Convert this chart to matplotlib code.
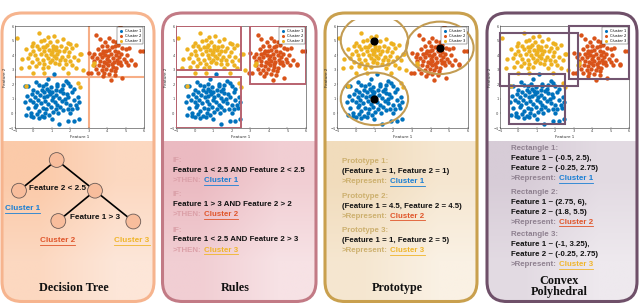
import matplotlib
matplotlib.use('Agg')
import matplotlib.pyplot as plt
from matplotlib.patches import FancyBboxPatch, Circle, Rectangle, Ellipse
import numpy as np

# ---------------- data ----------------
cluster1 = [(1.13,2.71),(0.14,2.16),(0.81,2.38),(-0.46,1.88),(-0.3,1.9),(0.3,1.95),(0.7,2.0),(1.3,2.05),
            (1.6,1.95),(2.0,1.85),(2.2,1.7),(0.0,1.6),(0.2,1.5),(0.45,1.6),(0.6,1.45),(0.85,1.55),(1.0,1.5),
            (1.2,1.6),(1.45,1.55),(1.6,1.4),(1.8,1.35),(2.1,1.45),(2.4,1.1),(-0.35,1.2),(-0.1,1.3),(0.1,1.15),
            (0.35,1.25),(0.55,1.1),(0.75,1.2),(0.9,1.3),(1.05,1.1),(1.25,1.25),(1.4,1.05),(1.7,1.0),(1.9,1.1),
            (2.2,0.95),(2.45,0.8),(-0.45,0.75),(-0.2,0.9),(0.0,0.8),(0.25,0.95),(0.4,0.7),(0.65,0.85),(0.8,0.65),
            (1.0,0.9),(1.15,0.75),(1.3,0.6),(1.55,0.85),(1.75,0.7),(2.0,0.6),(2.3,0.55),(-0.3,0.35),(0.1,0.45),
            (0.3,0.2),(0.5,0.4),(0.7,0.3),(0.95,0.45),(1.2,0.3),(1.45,0.45),(1.6,0.25),(1.85,0.3),(2.1,0.3),
            (2.35,0.4),(-0.4,-0.1),(-0.15,-0.2),(0.2,-0.05),(0.45,-0.15),(0.65,0.05),(0.85,-0.1),(1.05,0.1),
            (1.35,0.0),(2.0,0.05),(0.0,-0.25),(0.3,-0.3),(0.6,-0.25),(1.0,-0.35),(1.4,-0.7),(1.9,-0.5),
            (2.2,-0.5),(2.45,-0.4),(0.5,1.85),(0.95,1.8),(1.55,1.7),(1.9,2.1),(0.15,0.6),(1.3,1.9),(0.75,1.7),
            (-0.15,0.05),(1.75,2.2)]
cluster2 = [(4.7,6.0),(3.4,5.35),(3.6,5.1),(4.1,5.2),(4.3,5.0),(3.9,4.9),(4.5,4.9),(4.6,4.7),(3.7,4.6),
            (4.0,4.6),(4.25,4.55),(4.8,4.5),(5.0,4.4),(5.2,4.5),(3.5,4.4),(3.8,4.3),(4.1,4.35),(4.4,4.3),
            (4.6,4.2),(5.8,4.3),(5.95,4.3),(3.0,4.15),(3.3,4.1),(3.6,4.05),(3.9,4.0),(4.2,4.1),(4.5,4.0),
            (4.75,4.05),(5.1,4.0),(3.2,3.9),(3.45,3.8),(3.7,3.85),(4.0,3.75),(4.3,3.8),(4.55,3.7),(4.9,3.75),
            (5.3,3.7),(3.6,3.6),(3.85,3.55),(4.1,3.6),(4.35,3.5),(4.6,3.45),(5.0,3.5),(5.5,3.4),(5.15,3.3),
            (3.3,3.35),(3.55,3.3),(3.8,3.25),(4.05,3.3),(4.3,3.2),(4.5,3.15),(4.75,3.3),(3.4,3.05),(3.7,3.0),
            (3.95,3.05),(4.2,2.95),(4.45,2.9),(3.1,2.8),(3.5,2.75),(3.85,2.8),(4.1,2.7),(4.4,2.65),(4.2,2.3),
            (4.8,2.4),(3.75,2.55),(2.95,2.8),(4.7,3.55),(3.95,4.25),(4.05,3.95),(4.25,3.4),(3.95,3.45),
            (4.4,4.6),(3.75,4.15),(4.65,3.9),(5.5,3.35),(3.3,3.6)]
cluster3 = [(-0.9,5.2),(0.3,5.5),(0.8,5.25),(1.1,5.3),(0.6,5.05),(1.3,5.0),(1.6,5.1),(0.0,4.85),(0.4,4.95),
            (0.9,4.9),(1.9,4.85),(2.0,4.75),(2.3,4.7),(-0.1,4.6),(0.2,4.65),(0.5,4.55),(0.75,4.7),(1.05,4.6),
            (1.25,4.55),(1.5,4.65),(1.75,4.5),(2.1,4.5),(-0.4,4.4),(0.0,4.3),(0.3,4.4),(0.6,4.3),(0.85,4.35),
            (1.0,4.2),(1.2,4.35),(1.4,4.25),(1.65,4.3),(1.95,4.2),(2.5,4.1),(2.6,4.05),(-0.2,4.05),(0.1,4.0),
            (0.4,4.1),(0.7,4.0),(0.95,4.05),(1.1,3.95),(1.3,4.05),(1.55,3.9),(1.85,3.95),(2.2,3.9),(-0.6,3.75),
            (-0.3,3.8),(0.2,3.75),(0.5,3.7),(0.8,3.8),(1.0,3.7),(1.2,3.8),(1.45,3.65),(1.7,3.7),(2.0,3.6),
            (2.4,3.65),(-0.1,3.5),(0.3,3.45),(0.6,3.4),(0.9,3.5),(1.15,3.45),(1.4,3.4),(1.75,3.4),(2.1,3.35),
            (-0.7,3.15),(-0.25,3.2),(0.15,3.25),(0.5,3.1),(0.8,3.2),(1.6,3.15),(2.3,3.1),(2.7,3.0),(0.0,2.75),
            (0.6,2.8),(1.9,2.8),(3.25,3.3),(3.3,3.45),(-0.4,1.85),(2.5,1.8),(2.4,2.1),(1.05,4.45),(0.65,4.55)]

cluster_names = ["Cluster 1", "Cluster 2", "Cluster 3"]
cluster_colors = ["#0072BD", "#D95319", "#EDB120"]
label_colors = ["#1a7fd4", "#e0552a", "#f0b52a"]
axis_ticks = [-1, 0, 1, 2, 3, 4, 5, 6]

tree_split_y = 2.5          # decision tree: Feature 2 < 2.5
tree_split_x = 3            # decision tree: Feature 1 > 3
rule_boxes = [(-1, 2.5, -1, 2.5), (3, 6, 2, 6), (-1, 2.5, 3, 6)]   # (x0,x1,y0,y1)
proto_x = [1, 4.5, 1]
proto_y = [1, 4.5, 5]
proto_radius = 1.8
rect_boxes = [(-0.5, 2.5, -0.7, 2.7), (2.75, 6, 2.35, 6), (-1, 3.25, 1.85, 5.55)]

rules_text = [("IF:", "Feature 1 < 2.5 AND Feature 2 < 2.5", ">THEN:"),
              ("IF:", "Feature 1 > 3 AND Feature 2 > 2", ">THEN:"),
              ("IF:", "Feature 1 < 2.5 AND Feature 2 > 3", ">THEN:")]
proto_text = [("Prototype 1:", "(Feature 1 = 1, Feature 2 = 1)"),
              ("Prototype 2:", "(Feature 1 = 4.5, Feature 2 = 4.5)"),
              ("Prototype 3:", "(Feature 1 = 1, Feature 2 = 5)")]
rect_text = [("Rectangle 1:", "Feature 1 ~ (-0.5, 2.5),", "Feature 2 ~ (-0.25, 2.75)"),
             ("Rectangle 2:", "Feature 1 ~ (2.75, 6),", "Feature 2 ~ (1.8, 5.5)"),
             ("Rectangle 3:", "Feature 1 ~ (-1, 3.25),", "Feature 2 ~ (-0.25, 2.75)")]
titles = ["Decision Tree", "Rules", "Prototype", "Convex", "Polyhedral"]

# ---------------- figure ----------------
W, H = 640, 303
fig = plt.figure(figsize=(6.4, 3.03), dpi=100)
bg = fig.add_axes([0, 0, 1, 1])
bg.set_xlim(0, W); bg.set_ylim(H, 0); bg.axis('off')

def hex2rgb(h):
    h = h.lstrip('#'); return [int(h[i:i+2], 16) / 255 for i in (0, 2, 4)]

panels = [(2, 154, "#f6b48e", "#fbcaa9", "#fde6d8"),
          (162.5, 316, "#c27a85", "#ebbac1", "#f7e2e5"),
          (325, 477, "#c9a04e", "#f1dcbc", "#faf1e4"),
          (487, 637, "#6f5069", "#d7ccd7", "#eee9ee")]
TOP, BOT, SPLIT = 13, 301.5, 142
for x0, x1, ec, c1, c2 in panels:
    base = FancyBboxPatch((x0, TOP), x1 - x0, BOT - TOP, boxstyle="round,pad=0,rounding_size=20",
                          fc='white', ec='none', zorder=1)
    bg.add_patch(base)
    a, b = np.array(hex2rgb(c1)), np.array(hex2rgb(c2))
    arr = np.array([[a, (a + b) / 2], [(a + b) / 2, b]])
    im = bg.imshow(arr, extent=(x0, x1, BOT, SPLIT), interpolation='bilinear', aspect='auto', zorder=1.5)
    im.set_clip_path(base)
    outline = FancyBboxPatch((x0, TOP), x1 - x0, BOT - TOP, boxstyle="round,pad=0,rounding_size=20",
                             fc='none', ec=ec, lw=2.2, zorder=2)
    bg.add_patch(outline)
bg.set_xlim(0, W); bg.set_ylim(H, 0)

def make_scatter(left, width):
    ax = fig.add_axes([left / W, (H - 128) / H, width / W, 102 / H])
    for pts, c, n in zip([cluster1, cluster2, cluster3], cluster_colors, cluster_names):
        xs = [p[0] for p in pts]; ys = [p[1] for p in pts]
        ax.scatter(xs, ys, s=10, color=c, linewidths=0, label=n, zorder=2)
    ax.set_xlim(-1, 6); ax.set_ylim(-1, 6)
    ax.set_xticks(axis_ticks); ax.set_yticks(axis_ticks)
    ax.tick_params(labelsize=2.6, length=1, width=0.3, pad=1, colors='#444444', direction='in')
    for s in ax.spines.values():
        s.set_linewidth(0.4); s.set_color('#333333')
    ax.set_xlabel("Feature 1", fontsize=3, labelpad=1, color='#333333')
    ax.set_ylabel("Feature 2", fontsize=3, labelpad=1, color='#333333')
    leg = ax.legend(loc='upper right', fontsize=2.6, handlelength=1.2, handletextpad=0.5, borderpad=0.4,
                    labelspacing=0.25, markerscale=0.7, fancybox=False, framealpha=1, borderaxespad=0.4)
    leg.get_frame().set_linewidth(0.3); leg.get_frame().set_edgecolor('#333333')
    leg.set_zorder(5)
    return ax

ax1 = make_scatter(15, 129)
ax2 = make_scatter(176, 130)
ax3 = make_scatter(337, 131)
ax4 = make_scatter(500, 129)

# panel 1: decision boundaries
ax1.axhline(tree_split_y, color="#f7ae86", lw=1.5, zorder=1)
ax1.axvline(tree_split_x, color="#f7ae86", lw=1.5, zorder=1)

# panel 2: rule boxes
for x0, x1, y0, y1 in rule_boxes:
    ax2.add_patch(Rectangle((x0, y0), x1 - x0, y1 - y0, fill=False, ec="#b8626f", lw=1.4, zorder=3))

# panel 3: prototypes
clip3 = Rectangle((326, 20), 152, 130, transform=bg.transData)
for px, py in zip(proto_x, proto_y):
    c = Ellipse((px, py), 2 * proto_radius, 2 * proto_radius, fill=False, ec="#c39c52", lw=1.5,
                zorder=3, clip_on=True)
    ax3.add_patch(c)
    c.set_clip_path(clip3)
ax3.scatter(proto_x, proto_y, s=24, color='black', zorder=6)

# panel 4: rectangles
for x0, x1, y0, y1 in rect_boxes:
    ax4.add_patch(Rectangle((x0, y0), x1 - x0, y1 - y0, fill=False, ec="#735570", lw=1.5,
                            zorder=3, clip_on=False))

# ---------------- text helpers ----------------
fig.canvas.draw()
renderer = fig.canvas.get_renderer()
BODY = 5.7
SANS = 'Liberation Sans'

def seg_line(x, y, prefix, pcolor, label, lcolor):
    t = bg.text(x, y, prefix, fontsize=BODY, fontweight='bold', family=SANS, color=pcolor,
                va='center', ha='left', zorder=10)
    w = t.get_window_extent(renderer).width
    x2 = x + w + 2.5
    t2 = bg.text(x2, y, label, fontsize=BODY, fontweight='bold', family=SANS, color=lcolor,
                 va='center', ha='left', zorder=10)
    w2 = t2.get_window_extent(renderer).width
    bg.plot([x2, x2 + w2], [y + 4.2, y + 4.2], color=lcolor, lw=0.6, zorder=10)

def underlined_center(x, y, label, color, size):
    t = bg.text(x, y, label, fontsize=size, fontweight='bold', family=SANS, color=color,
                va='center', ha='center', zorder=10)
    w = t.get_window_extent(renderer).width
    bg.plot([x - w / 2, x + w / 2], [y + 4.4, y + 4.4], color=color, lw=0.6, zorder=10)

def title(x, y, s):
    bg.text(x, y, s, fontsize=8.7, fontweight='bold', family='Liberation Serif', color='#111111',
            ha='center', va='center', zorder=10)

# ---------------- panel 1: tree ----------------
nodes = {'root': (56.7, 160), 'l': (19, 190.7), 'r': (95, 190.7), 'rl': (58.3, 221), 'rr': (133.3, 221.5)}
for a, b in [('root', 'l'), ('root', 'r'), ('r', 'rl'), ('r', 'rr')]:
    bg.plot([nodes[a][0], nodes[b][0]], [nodes[a][1], nodes[b][1]], color='black', lw=1.2, zorder=4)
for k, (cx, cy) in nodes.items():
    bg.add_patch(Circle((cx, cy), 7.4, fc="#f8bd9c", ec="#6a5a55", lw=0.6, zorder=5))
bg.text(57.3, 189, "Feature 2 < 2.5", fontsize=5.9, fontweight='bold', family=SANS, color='#111111',
        ha='center', va='center', zorder=10)
bg.text(95.5, 217.3, "Feature 1 > 3", fontsize=5.9, fontweight='bold', family=SANS, color='#111111',
        ha='center', va='center', zorder=10)
underlined_center(22.7, 208.5, cluster_names[0], label_colors[0], 5.9)
underlined_center(57.5, 240.5, cluster_names[1], label_colors[1], 5.9)
underlined_center(132, 240.5, cluster_names[2], label_colors[2], 5.9)
title(74, 288.3, titles[0])

# ---------------- panel 2: rules ----------------
ys = [160.7, 195, 230]
for i, (a, b, c) in enumerate(rules_text):
    y = ys[i]
    bg.text(172.7, y, a, fontsize=BODY, fontweight='bold', family=SANS, color="#dba0a8", va='center', zorder=10)
    bg.text(172.7, y + 9.7, b, fontsize=BODY, fontweight='bold', family=SANS, color="#111111", va='center', zorder=10)
    seg_line(172.7, y + 20, c, "#dba0a8", cluster_names[i], label_colors[i])
title(235.7, 287.7, titles[1])

# ---------------- panel 3: prototypes ----------------
ys = [161.5, 196, 230.7]
for i, (a, b) in enumerate(proto_text):
    y = ys[i]
    bg.text(342, y, a, fontsize=BODY, fontweight='bold', family=SANS, color="#cdb06e", va='center', zorder=10)
    bg.text(342, y + 10, b, fontsize=BODY, fontweight='bold', family=SANS, color="#111111", va='center', zorder=10)
    seg_line(342, y + 20, ">Represent:", "#cdb06e", cluster_names[i], label_colors[i])
title(397, 287.7, titles[2])

# ---------------- panel 4: rectangles ----------------
ys = [149, 192.3, 235]
for i, (a, b, c) in enumerate(rect_text):
    y = ys[i]
    bg.text(510.7, y, a, fontsize=BODY, fontweight='bold', family=SANS, color="#8f8190", va='center', zorder=10)
    bg.text(510.7, y + 10, b, fontsize=BODY, fontweight='bold', family=SANS, color="#111111", va='center', zorder=10)
    bg.text(510.7, y + 19.8, c, fontsize=BODY, fontweight='bold', family=SANS, color="#111111", va='center', zorder=10)
    seg_line(510.7, y + 29.8, ">Represent:", "#8f8190", cluster_names[i], label_colors[i])
title(559, 281.5, titles[3])
title(559, 292, titles[4])

bg.set_xlim(0, W); bg.set_ylim(H, 0)
fig.savefig("out.png", dpi=100)
